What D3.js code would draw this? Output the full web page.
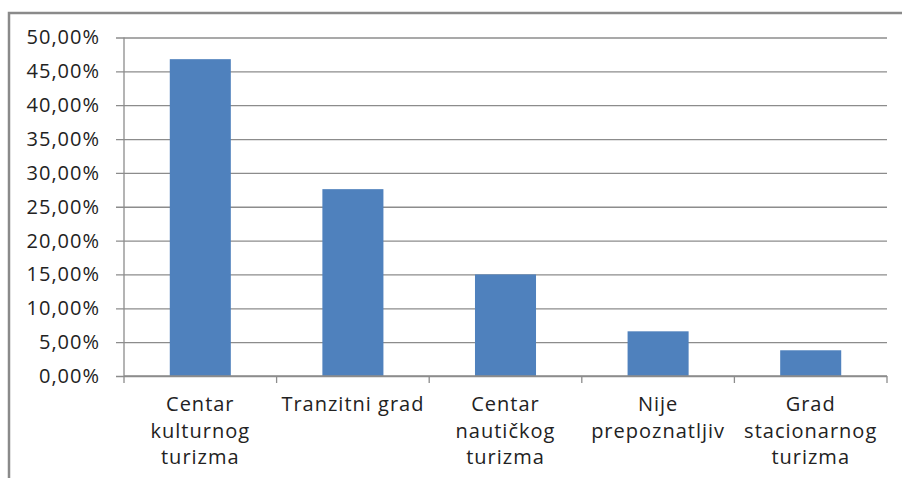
<!DOCTYPE html>
<html>
<head>
<meta charset="utf-8">
<script src="https://cdn.jsdelivr.net/npm/d3@7"></script>
<style>
  body { margin: 0; background: #fff; }
  text { font-family: "Open Sans", sans-serif; fill: #222; }
</style>
</head>
<body>
<svg width="902" height="478"></svg>
<script>
const categories = [
    ['Centar', 'kulturnog', 'turizma'],
    ['Tranzitni grad'],
    ['Centar', 'nautičkog', 'turizma'],
    ['Nije', 'prepoznatljiv'],
    ['Grad', 'stacionarnog', 'turizma']
];
const values = [0.468, 0.276, 0.150, 0.066, 0.038];
const yTicks = [0, 0.05, 0.10, 0.15, 0.20, 0.25, 0.30, 0.35, 0.40, 0.45, 0.50];

const svg = d3.select('svg');
const width = +svg.attr('width');
const height = +svg.attr('height');

const margin = { top: 37.5, right: 15, bottom: 102, left: 124 };
const innerWidth = width - margin.left - margin.right;
const innerHeight = height - margin.top - margin.bottom;

// outer chart frame (only left and top visible)
svg.append('path')
    .attr('d', `M9,${height + 5} L9,13 L${width + 5},13`)
    .attr('fill', 'none')
    .attr('stroke', '#8a8a8a')
    .attr('stroke-width', 2.5);

const idx = categories.map((d, i) => i);

const xScale = d3.scaleBand()
    .domain(idx)
    .range([0, innerWidth])
    .paddingInner(0.6)
    .paddingOuter(0.3);

const xBand = d3.scaleBand()
    .domain(idx)
    .range([0, innerWidth]);

const yScale = d3.scaleLinear()
    .domain([0, 0.5])
    .range([innerHeight, 0]);

const g = svg.append('g')
    .attr('transform', `translate(${margin.left}, ${margin.top})`);

const fmt = d => d3.format('.2f')(d * 100).replace('.', ',') + '%';

const yAxisG = g.append('g')
    .call(d3.axisLeft(yScale).tickValues(yTicks).tickFormat(fmt).tickSize(-innerWidth).tickPadding(24));
yAxisG.select('.domain').remove();
yAxisG.selectAll('.tick line')
    .attr('x1', -8)
    .attr('stroke', '#8c8c8c')
    .attr('stroke-width', 1.3);
yAxisG.selectAll('.tick text')
    .style('font-size', '20px')
    .style('letter-spacing', '1px')
    .attr('fill', '#222');

g.append('line')
    .attr('x1', 0).attr('x2', 0)
    .attr('y1', 0).attr('y2', innerHeight)
    .attr('stroke', '#8c8c8c')
    .attr('stroke-width', 1.3);

g.selectAll('rect.bar').data(values)
    .enter().append('rect')
    .attr('class', 'bar')
    .attr('x', (d, i) => xScale(i))
    .attr('y', d => yScale(d))
    .attr('width', xScale.bandwidth())
    .attr('height', d => innerHeight - yScale(d))
    .attr('fill', '#4f81bd');

// x axis with tick marks at band boundaries
const xAxisG = g.append('g')
    .attr('transform', `translate(0, ${innerHeight})`);
xAxisG.append('line')
    .attr('x1', 0).attr('x2', innerWidth)
    .attr('stroke', '#8c8c8c')
    .attr('stroke-width', 1.3);
xAxisG.selectAll('line.tick').data(idx.concat([idx.length]))
    .enter().append('line')
    .attr('class', 'tick')
    .attr('x1', d => d < idx.length ? xBand(d) : innerWidth)
    .attr('x2', d => d < idx.length ? xBand(d) : innerWidth)
    .attr('y1', 0).attr('y2', 7)
    .attr('stroke', '#8c8c8c')
    .attr('stroke-width', 1.3);

const lines = [];
categories.forEach((c, i) => c.forEach((t, j) => lines.push({ i, j, t })));

xAxisG.selectAll('text.cat').data(lines)
    .enter().append('text')
    .attr('class', 'cat')
    .attr('text-anchor', 'middle')
    .attr('x', d => xBand(d.i) + xBand.bandwidth() / 2)
    .attr('y', d => 35 + d.j * 26.5)
    .style('font-size', '20px')
    .style('letter-spacing', '1px')
    .text(d => d.t);
</script>
</body>
</html>
